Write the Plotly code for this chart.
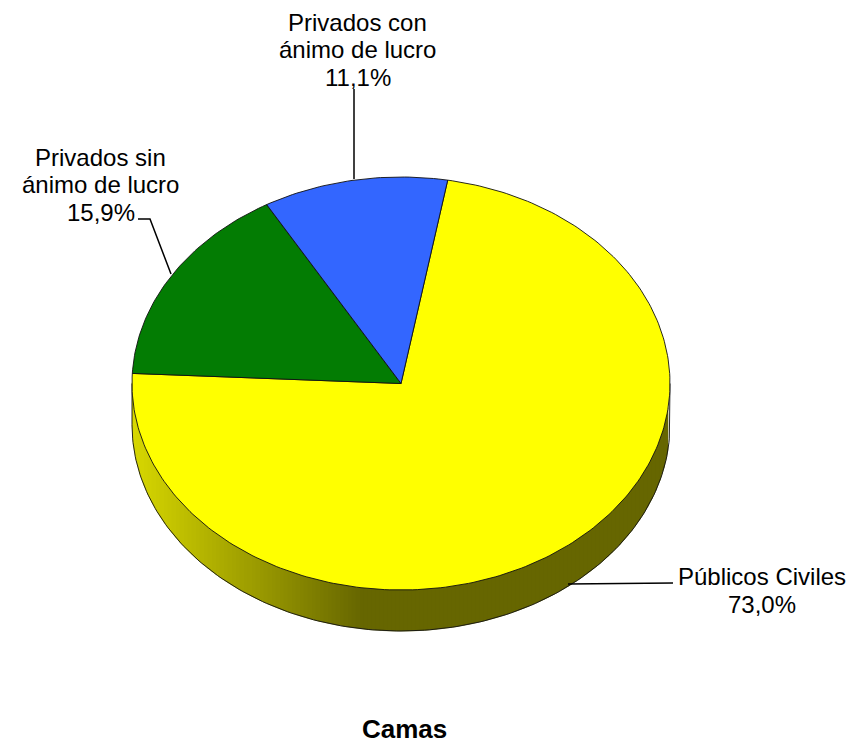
import numpy as np
import plotly.graph_objects as go

# Data
categories = ["Públicos Civiles", "Privados sin ánimo de lucro", "Privados con ánimo de lucro"]
values = [73.0, 15.9, 11.1]
value_labels = ["73,0%", "15,9%", "11,1%"]
slice_colors = ["#FFFF00", "#037C03", "#3366FF"]
chart_title = "Camas"

label_lines = [
    "Públicos Civiles", "73,0%",
    "Privados sin", "ánimo de lucro", "15,9%",
    "Privados con", "ánimo de lucro", "11,1%",
]
label_x = [762, 762, 100, 100, 100.5, 357.5, 357.5, 358]
label_y = [576.5, 604.5, 157.5, 184.5, 212.5, 22, 49.5, 77.5]
leader_x = [[568, 673], [138, 150, 171], [354, 354]]
leader_y = [[584, 583], [219, 219, 274], [89, 179]]

# Geometry of the tilted pie, in picture units
W, H = 865, 745
CX, CY, RX, RY = 401, 383.5, 269, 206.5
DEPTH = 41
START_DEG = 10
EDGE = "#111111"


def point(deg):
    rad = np.radians(deg)
    return CX + RX * np.sin(rad), CY - RY * np.cos(rad)


fig = go.Figure()

# Side wall: vertical bands shaded from left to right
edges = np.arange(CX - RX, CX + RX + 0.01, 4.0)
for left, right in zip(edges[:-1], edges[1:]):
    xs = np.linspace(left, right, 4)
    ys = CY + RY * np.sqrt(np.clip(1 - ((xs - CX) / RX) ** 2, 0, 1))
    mid = (left + right) / 2
    t = min(max((mid - 132) / (362 - 132), 0), 1)
    shade = int(round(216 + (102 - 216) * t))
    colour = f"rgb({shade},{shade},0)"
    fig.add_trace(go.Scatter(
        x=np.concatenate([xs, xs[::-1]]),
        y=np.concatenate([ys - 1, ys[::-1] + DEPTH]),
        mode="lines", fill="toself", fillcolor=colour,
        line=dict(color=colour, width=0.6), hoverinfo="skip", showlegend=False,
    ))

# Outline of the side wall
t = np.linspace(90, 270, 181)
wx, wy = point(t)
fig.add_trace(go.Scatter(
    x=np.concatenate([[CX + RX], wx, [CX - RX]]),
    y=np.concatenate([[CY], wy + DEPTH, [CY]]),
    mode="lines", line=dict(color=EDGE, width=0.9), hoverinfo="skip", showlegend=False,
))

# Top face slices
angle = START_DEG
for name, value, colour in zip(categories, values, slice_colors):
    sweep = value / sum(values) * 360
    t = np.linspace(angle, angle + sweep, max(int(sweep), 2) + 1)
    px, py = point(t)
    fig.add_trace(go.Scatter(
        x=np.concatenate([[CX], px, [CX]]),
        y=np.concatenate([[CY], py, [CY]]),
        mode="lines", fill="toself", fillcolor=colour,
        line=dict(color=EDGE, width=0.9), name=name, showlegend=False,
        hovertemplate=name + "<extra></extra>",
    ))
    angle += sweep

# Leader lines
for lx, ly in zip(leader_x, leader_y):
    fig.add_trace(go.Scatter(
        x=lx, y=ly, mode="lines", line=dict(color="#000000", width=1.5),
        hoverinfo="skip", showlegend=False,
    ))

FONT = "Liberation Sans, Arial"
annotations = [
    dict(x=x, y=y, text=s, showarrow=False, xanchor="center", yanchor="middle",
         font=dict(family=FONT, size=24, color="#000000"))
    for x, y, s in zip(label_x, label_y, label_lines)
]
annotations.append(dict(
    x=404, y=729, text=f"<b>{chart_title}</b>", showarrow=False,
    xanchor="center", yanchor="middle",
    font=dict(family=FONT, size=26, color="#000000"),
))

fig.update_layout(
    width=W, height=H, margin=dict(l=0, r=0, t=0, b=0),
    paper_bgcolor="#FFFFFF", plot_bgcolor="#FFFFFF",
    xaxis=dict(range=[0, W], visible=False, fixedrange=True),
    yaxis=dict(range=[H, 0], visible=False, fixedrange=True),
    annotations=annotations, showlegend=False,
)

fig.write_html("out.html", config={"displayModeBar": False},
               post_script="document.body.style.margin='0';document.documentElement.style.overflow='hidden';")
